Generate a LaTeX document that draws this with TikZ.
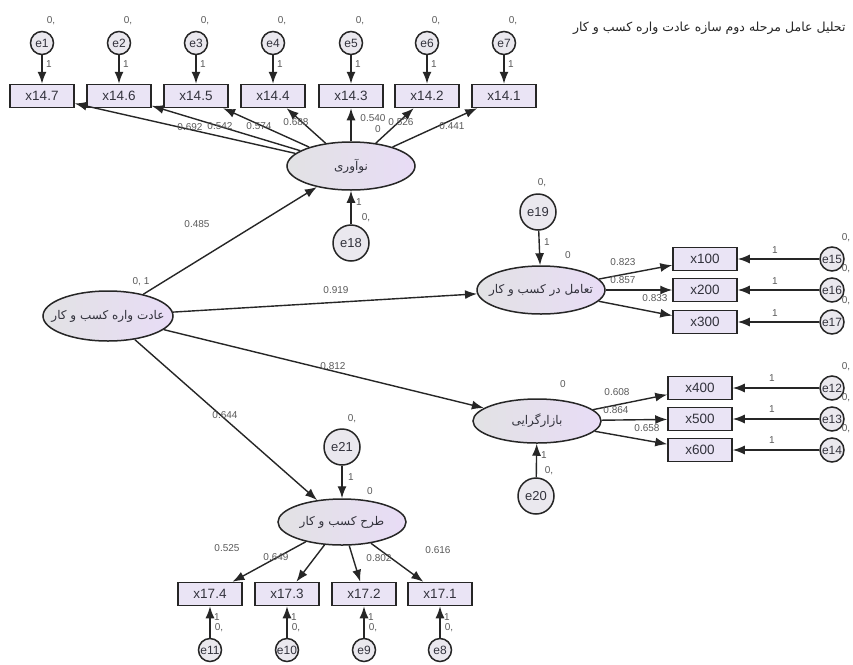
\documentclass[tikz,border=0pt]{standalone}
\usepackage{fontspec}
\setmainfont{Liberation Sans}
\newfontfamily\arabicfont[Script=Arabic]{DejaVu Sans}
\TeXXeTstate=1
\usetikzlibrary{arrows.meta,shapes.geometric}
\definecolor{boxfill}{RGB}{234,228,245}
\definecolor{errfill}{RGB}{234,232,238}
\definecolor{latL}{RGB}{226,226,228}
\definecolor{latR}{RGB}{232,220,246}
\definecolor{txt}{RGB}{50,50,60}
\definecolor{labc}{RGB}{90,90,90}
\tikzset{
  mbox/.style={draw=black!85, line width=1.5pt, fill=boxfill, minimum width=64pt, minimum height=23pt, inner sep=0pt, font=\fontsize{13.5}{13.5}\selectfont, text=txt},
  err/.style={circle, draw=black!85, line width=1.5pt, fill=errfill, minimum size=23pt, inner sep=0pt, font=\fontsize{12}{12}\selectfont, text=txt},
  bigerr/.style={err, minimum size=36pt, font=\fontsize{13}{13}\selectfont},
  lat/.style={ellipse, draw=black!85, line width=1.5pt, left color=latL, right color=latR, minimum width=128pt, minimum height=48pt, inner sep=0pt},
  lattext/.style={label={[font=\arabicfont\fontsize{12}{12}\selectfont, text=txt]center:#1}},
  lab/.style={font=\fontsize{10}{10}\selectfont, text=labc, inner sep=0pt},
  arr/.style={-{Latex[length=12pt,width=9pt]}, line width=1.4pt, draw=black!85}
}
\begin{document}
\begin{tikzpicture}[x=1pt,y=-1pt]
\useasboundingbox[fill=white] (0,0) rectangle (853,664);
% title
\node[font=\arabicfont\fontsize{12.5}{12.5}\selectfont, text=black!85, anchor=east] (title) at (849,28) {\beginR تحلیل عامل مرحله دوم سازه عادت واره کسب و کار\endR};
% top indicators
\foreach \n/\nm/\x/\lbl in {147/1/42/x14.7, 146/2/119/x14.6, 145/3/196/x14.5, 144/4/273/x14.4, 143/5/351/x14.3, 142/6/427/x14.2, 141/7/504/x14.1}{
  \node[mbox] (x\n) at (\x,96) {\lbl};
  \node[err] (e\nm) at (\x,43) {e\nm};
  \node[lab] (z\nm) at (\x+9,21) {0,};
  \node[lab] (o\nm) at (\x+7,64) {1};
  \draw[arr] (e\nm) -- (x\n);
}
% latent nodes
\node[lat, lattext={\beginR نوآوری\endR}] (inn) at (351,166) {};
\node[lat, minimum width=130pt, minimum height=50pt, lattext={\beginR عادت واره کسب و کار\endR}] (hab) at (108,316) {};
\node[lat, lattext={\beginR تعامل در کسب و کار\endR}] (tam) at (541,290) {};
\node[lat, minimum height=44pt, lattext={\beginR بازارگرایی\endR}] (baz) at (537,421) {};
\node[lat, minimum height=46pt, lattext={\beginR طرح کسب و کار\endR}] (tarh) at (342,522) {};
% innovation paths
\foreach \n in {147,146,145,144,143,142,141}{ \draw[arr] (inn) -- (x\n); }
\node[lab] (l1) at (190,127) {0.692};
\node[lab] (l2) at (220,126) {0.542};
\node[lab] (l3) at (259,126) {0.574};
\node[lab] (l4) at (296,122) {0.688};
\node[lab] (l5) at (373,118) {0.540};
\node[lab] (l5b) at (378,129) {0};
\node[lab] (l6) at (401,122) {0.526};
\node[lab] (l7) at (452,126) {0.441};
% e18
\node[bigerr] (e18) at (351,243) {e18};
\draw[arr] (e18) -- (inn);
\node[lab] (o18) at (359,202) {1};
\node[lab] (z18) at (366,218) {0,};
% main paths
\draw[arr] (hab) -- (inn);
\draw[arr] (hab) -- (tam);
\draw[arr] (hab) -- (baz);
\draw[arr] (hab) -- (tarh);
\node[lab] (m1) at (197,224) {0.485};
\node[lab] (m2) at (336,290) {0.919};
\node[lab] (m3) at (333,366) {0.812};
\node[lab] (m4) at (225,415) {0.644};
\node[lab] (h0) at (141,282) {0, 1};
% tam block
\node[bigerr] (e19) at (538,212) {e19};
\draw[arr] (e19) -- (tam);
\node[lab] (o19) at (547,242) {1};
\node[lab] (z19) at (542,183) {0,};
\node[lab] (t0) at (568,255) {0};
\foreach \n/\e/\y in {100/15/259, 200/16/290, 300/17/322}{
  \node[mbox] (x\n) at (705,\y) {x\n};
  \node[err, minimum size=24pt] (e\e) at (832,\y) {e\e};
  \draw[arr] (tam) -- (x\n);
  \draw[arr] (e\e) -- (x\n);
  \node[lab] (o\e) at (775,\y-9) {1};
  \node[lab] (z\e) at (846,\y-21) {0,};
}
\node[lab] (t1) at (623,262) {0.823};
\node[lab] (t2) at (623,280) {0.857};
\node[lab] (t3) at (655,298) {0.833};
% baz block
\node[bigerr] (e20) at (536,496) {e20};
\draw[arr] (e20) -- (baz);
\node[lab] (o20) at (544,455) {1};
\node[lab] (z20) at (549,471) {0,};
\node[lab] (b0) at (563,384) {0};
\foreach \n/\e/\y in {400/12/388, 500/13/419, 600/14/450}{
  \node[mbox] (x\n) at (700,\y) {x\n};
  \node[err, minimum size=24pt] (e\e) at (832,\y) {e\e};
  \draw[arr] (baz) -- (x\n);
  \draw[arr] (e\e) -- (x\n);
  \node[lab] (o\e) at (772,\y-10) {1};
  \node[lab] (z\e) at (846,\y-21) {0,};
}
\node[lab] (b1) at (617,392) {0.608};
\node[lab] (b2) at (616,410) {0.864};
\node[lab] (b3) at (647,428) {0.658};
% tarh block
\node[bigerr] (e21) at (342,447) {e21};
\draw[arr] (e21) -- (tarh);
\node[lab] (o21) at (351,477) {1};
\node[lab] (z21) at (352,419) {0,};
\node[lab] (d0) at (370,491) {0};
\foreach \n/\e/\x/\lbl in {174/11/210/x17.4, 173/10/287/x17.3, 172/9/364/x17.2, 171/8/440/x17.1}{
  \node[mbox] (x\n) at (\x,594) {\lbl};
  \node[err] (e\e) at (\x,650) {e\e};
  \draw[arr] (tarh) -- (x\n);
  \draw[arr] (e\e) -- (x\n);
  \node[lab] (o\e) at (\x+7,617) {1};
  \node[lab] (z\e) at (\x+9,628) {0,};
}
\node[lab] (d1) at (227,548) {0.525};
\node[lab] (d2) at (276,557) {0.649};
\node[lab] (d3) at (379,558) {0.802};
\node[lab] (d4) at (438,550) {0.616};
\end{tikzpicture}
\end{document}
